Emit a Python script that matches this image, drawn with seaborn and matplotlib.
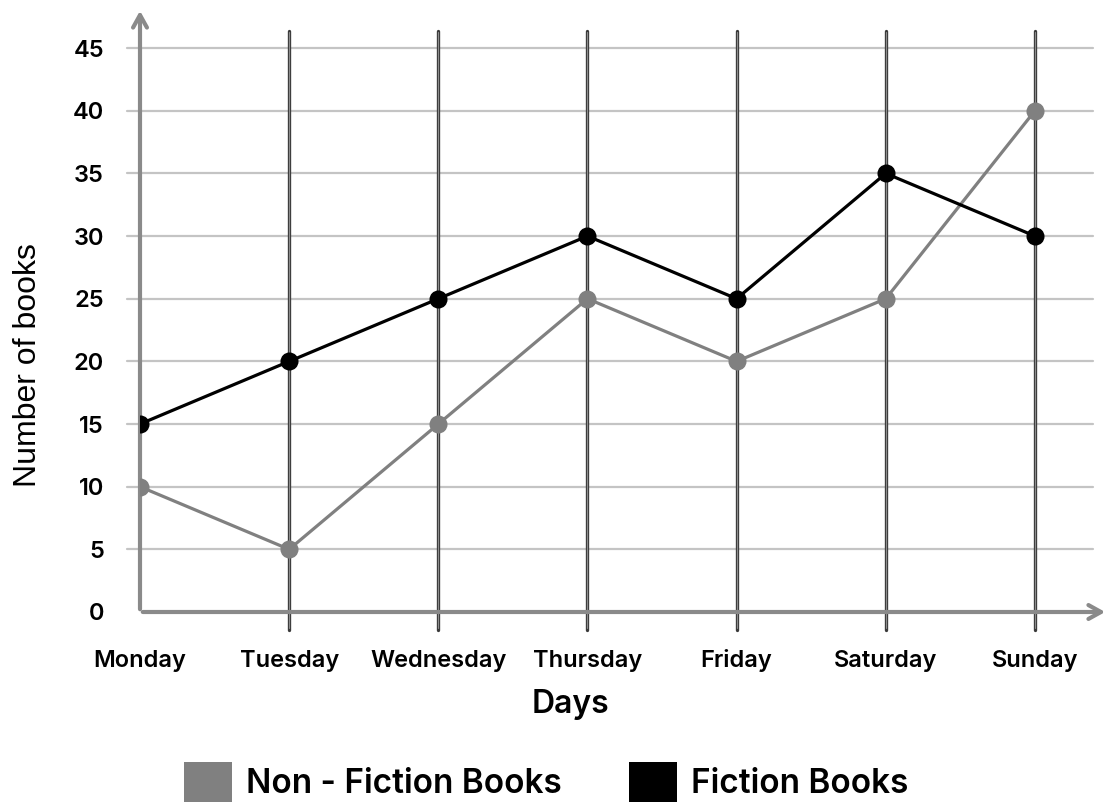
import pandas as pd
import seaborn as sns
import matplotlib.pyplot as plt
from matplotlib.patches import Patch

days = ["Monday", "Tuesday", "Wednesday", "Thursday", "Friday", "Saturday", "Sunday"]
non_fiction = [10, 5, 15, 25, 20, 25, 40]
fiction = [15, 20, 25, 30, 25, 35, 30]
y_ticks = [0, 5, 10, 15, 20, 25, 30, 35, 40, 45]

GREY = "#808080"
AXIS_GREY = "#8a8a8a"

df = pd.DataFrame({"pos": range(len(days)), "day": days,
                   "Non - Fiction Books": non_fiction, "Fiction Books": fiction})

sns.set_style("white")
plt.rcParams["font.family"] = ["Inter", "DejaVu Sans"]
plt.rcParams["text.color"] = "black"
plt.rcParams["xtick.color"] = "black"
plt.rcParams["ytick.color"] = "black"

fig = plt.figure(figsize=(11.11, 8.07), dpi=100)
ax = fig.add_axes([140 / 1111, 195 / 807, 968 / 1111, 604 / 807])
ax.set_xlim(0, 6.49)
ax.set_ylim(0, 48.2)
for s in ax.spines.values():
    s.set_visible(False)

# horizontal grid
for t in y_ticks[1:]:
    ax.plot([-0.09, 6.39], [t, t], color="#c4c4c4", lw=1.6, zorder=1, clip_on=False)

# vertical day lines (dark outline, grey core)
for p in df["pos"][1:]:
    ax.plot([p, p], [-1.45, 46.4], color="#3a3a3a", lw=2.4, zorder=2,
            clip_on=False, solid_capstyle="round")
    ax.plot([p, p], [-1.3, 46.3], color="#8c8c8c", lw=0.8, zorder=2, clip_on=False)

# axes arrows
ax.annotate("", xy=(1.0, 0), xytext=(0, 0), xycoords="axes fraction",
            arrowprops=dict(arrowstyle="->,head_length=0.9,head_width=0.5",
                            color=AXIS_GREY, lw=3), zorder=3)
ax.annotate("", xy=(0, 1.0), xytext=(0, 0), xycoords="axes fraction",
            arrowprops=dict(arrowstyle="->,head_length=0.9,head_width=0.5",
                            color=AXIS_GREY, lw=3), zorder=3)

sns.lineplot(data=df, x="pos", y="Non - Fiction Books", color=GREY, lw=2.3,
             marker="o", markersize=13, markeredgewidth=0, ax=ax, zorder=4)
sns.lineplot(data=df, x="pos", y="Fiction Books", color="black", lw=2.3,
             marker="o", markersize=13, markeredgewidth=0, ax=ax, zorder=5)

ax.set_xticks(df["pos"])
ax.set_xticklabels(days, fontsize=17, fontweight="semibold")
ax.set_yticks(y_ticks)
ax.set_yticklabels([str(t) for t in y_ticks], fontsize=17, fontweight="semibold")
ax.tick_params(axis="x", length=0, pad=27)
ax.tick_params(axis="y", length=0, pad=26)

ax.set_xlabel("")
ax.set_ylabel("")
fig.text(570 / 1111, 1 - 704 / 807, "Days", ha="center", va="center",
         fontsize=23, fontweight="semibold")
fig.text(28 / 1111, 1 - 365 / 807, "Number of books", ha="center", va="center",
         rotation=90, fontsize=23, family=["Liberation Sans"])

handles = [Patch(facecolor=GREY, edgecolor="none"), Patch(facecolor="black", edgecolor="none")]
fig.legend(handles, ["Non - Fiction Books", "Fiction Books"], ncol=2, frameon=False,
           loc="center", bbox_to_anchor=(546 / 1111, 1 - 782 / 807),
           prop={"size": 24, "weight": "semibold"},
           handlelength=1.45, handleheight=1.45, handletextpad=0.42, columnspacing=2.0)

fig.savefig("out.png", dpi=100)
